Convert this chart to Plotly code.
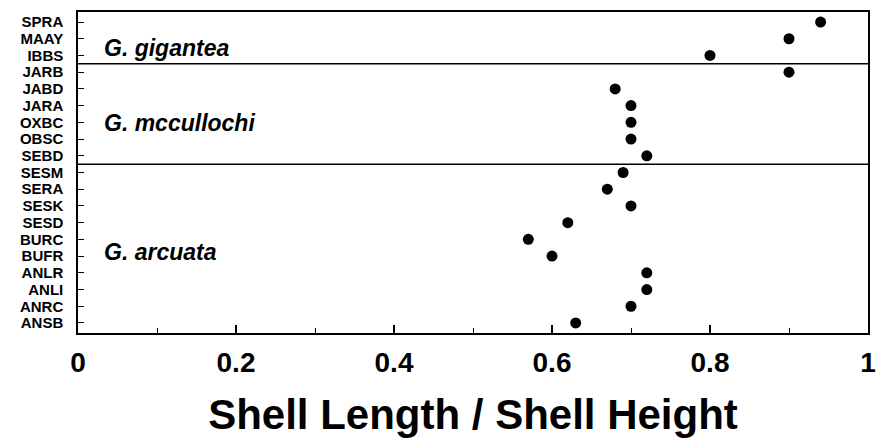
import plotly.graph_objects as go

sites = ["SPRA", "MAAY", "IBBS", "JARB", "JABD", "JARA", "OXBC", "OBSC", "SEBD",
         "SESM", "SERA", "SESK", "SESD", "BURC", "BUFR", "ANLR", "ANLI", "ANRC", "ANSB"]
ratio = [0.94, 0.90, 0.80, 0.90, 0.68, 0.70, 0.70, 0.70, 0.72,
         0.69, 0.67, 0.70, 0.62, 0.57, 0.60, 0.72, 0.72, 0.70, 0.63]

species = ["G. gigantea", "G. mccullochi", "G. arcuata"]
species_pos = [1.55, 6.05, 13.75]
group_bounds = [2.5, 8.5]

x_ticks = [0, 0.2, 0.4, 0.6, 0.8, 1]
x_tick_text = ["0", "0.2", "0.4", "0.6", "0.8", "1"]

FONT = "Liberation Sans, Arial, sans-serif"

fig = go.Figure()
fig.add_trace(go.Scatter(
    x=ratio, y=list(range(len(sites))), mode="markers",
    marker=dict(color="black", size=11, symbol="circle"),
    showlegend=False, hoverinfo="skip"))

for b in group_bounds:
    fig.add_shape(type="line", xref="paper", x0=0, x1=1, y0=b, y1=b,
                  line=dict(color="black", width=1.5))

for name, pos in zip(species, species_pos):
    fig.add_annotation(x=0.031, y=pos, text=f"<b><i>{name}</i></b>",
                       showarrow=False, xanchor="left", yanchor="middle",
                       font=dict(family=FONT, size=23, color="black"))

fig.update_xaxes(
    range=[0, 1], tickvals=x_ticks, ticktext=x_tick_text,
    ticks="inside", ticklen=8, tickwidth=1.5, tickcolor="black",
    minor=dict(dtick=0.1, tick0=0, ticks="inside", ticklen=5, tickwidth=1, tickcolor="black"),
    showline=True, linecolor="black", linewidth=1.5, mirror=True,
    showgrid=False, zeroline=False, automargin=False,
    tickfont=dict(family=FONT, size=28, color="black", weight="bold"),
    ticklabelstandoff=4,
    title=dict(text="<b>Shell Length / Shell Height</b>", standoff=22,
               font=dict(family=FONT, size=42, color="black")),
)
fig.update_yaxes(
    range=[18.6, -0.6], tickvals=list(range(len(sites))), ticktext=sites,
    ticks="inside", ticklen=6, tickwidth=1, tickcolor="black",
    showline=True, linecolor="black", linewidth=1.5, mirror=True,
    showgrid=False, zeroline=False, automargin=False,
    tickfont=dict(family=FONT, size=15, color="black", weight="bold"),
    ticklabelstandoff=10,
)
fig.update_layout(
    width=878, height=430,
    margin=dict(l=70, r=18, t=4, b=105),
    plot_bgcolor="white", paper_bgcolor="white",
)
fig.write_html("out.html")
